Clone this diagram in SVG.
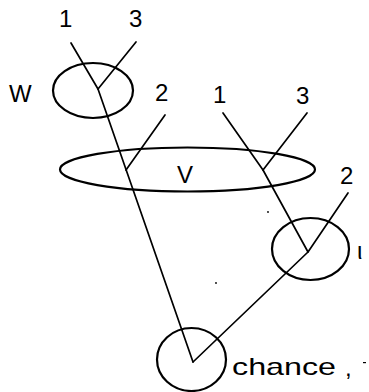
<svg xmlns="http://www.w3.org/2000/svg" width="369" height="392" viewBox="0 0 369 392">
<style>
.node{fill:none;stroke:#000;stroke-width:2.2}
.edge{fill:none;stroke:#000;stroke-width:1.7;stroke-linecap:round;stroke-linejoin:round}
text{font-family:"Liberation Sans",Arial,sans-serif;font-size:24px;fill:#000}
</style>
<rect width="369" height="392" fill="#fff"/>
<g id="connectors">
<path class="edge" d="M71,43 L98,89 L193,362"/>
<path class="edge" d="M136,42 L98,89"/>
<path class="edge" d="M165,115 L126,170"/>
<path class="edge" d="M223,113 L263,170 L308,252"/>
<path class="edge" d="M307,113 L263,170"/>
<path class="edge" d="M348,193 L308,252 L193,362"/>
</g>
<g id="node-W">
<ellipse class="node" cx="93" cy="90.5" rx="40" ry="27.5"/>
<text x="9" y="102">W</text>
<text x="59" y="27">1</text>
<text x="129" y="27">3</text>
</g>
<g id="node-V">
<ellipse class="node" cx="187.5" cy="169.5" rx="127.5" ry="22"/>
<text x="177" y="183" font-size="26">V</text>
<text x="155" y="101">2</text>
<text x="213" y="103">1</text>
<text x="296" y="104">3</text>
</g>
<g id="node-U">
<ellipse class="node" cx="310.5" cy="249" rx="38.5" ry="31"/>
<text x="340" y="184">2</text>
<text x="357" y="259" font-size="27">ι</text>
</g>
<g id="node-chance">
<ellipse class="node" cx="191.5" cy="359.5" rx="34.5" ry="31.5"/>
<text x="232" y="375" font-size="26" textLength="104" lengthAdjust="spacingAndGlyphs">chance</text>
<text x="345" y="376">,</text>
</g>
<g id="specks" fill="#000">
<circle cx="268" cy="212" r="0.9"/>
<circle cx="216" cy="283" r="0.9"/>
<rect x="363" y="362" width="3" height="1.2"/>
</g>
</svg>
